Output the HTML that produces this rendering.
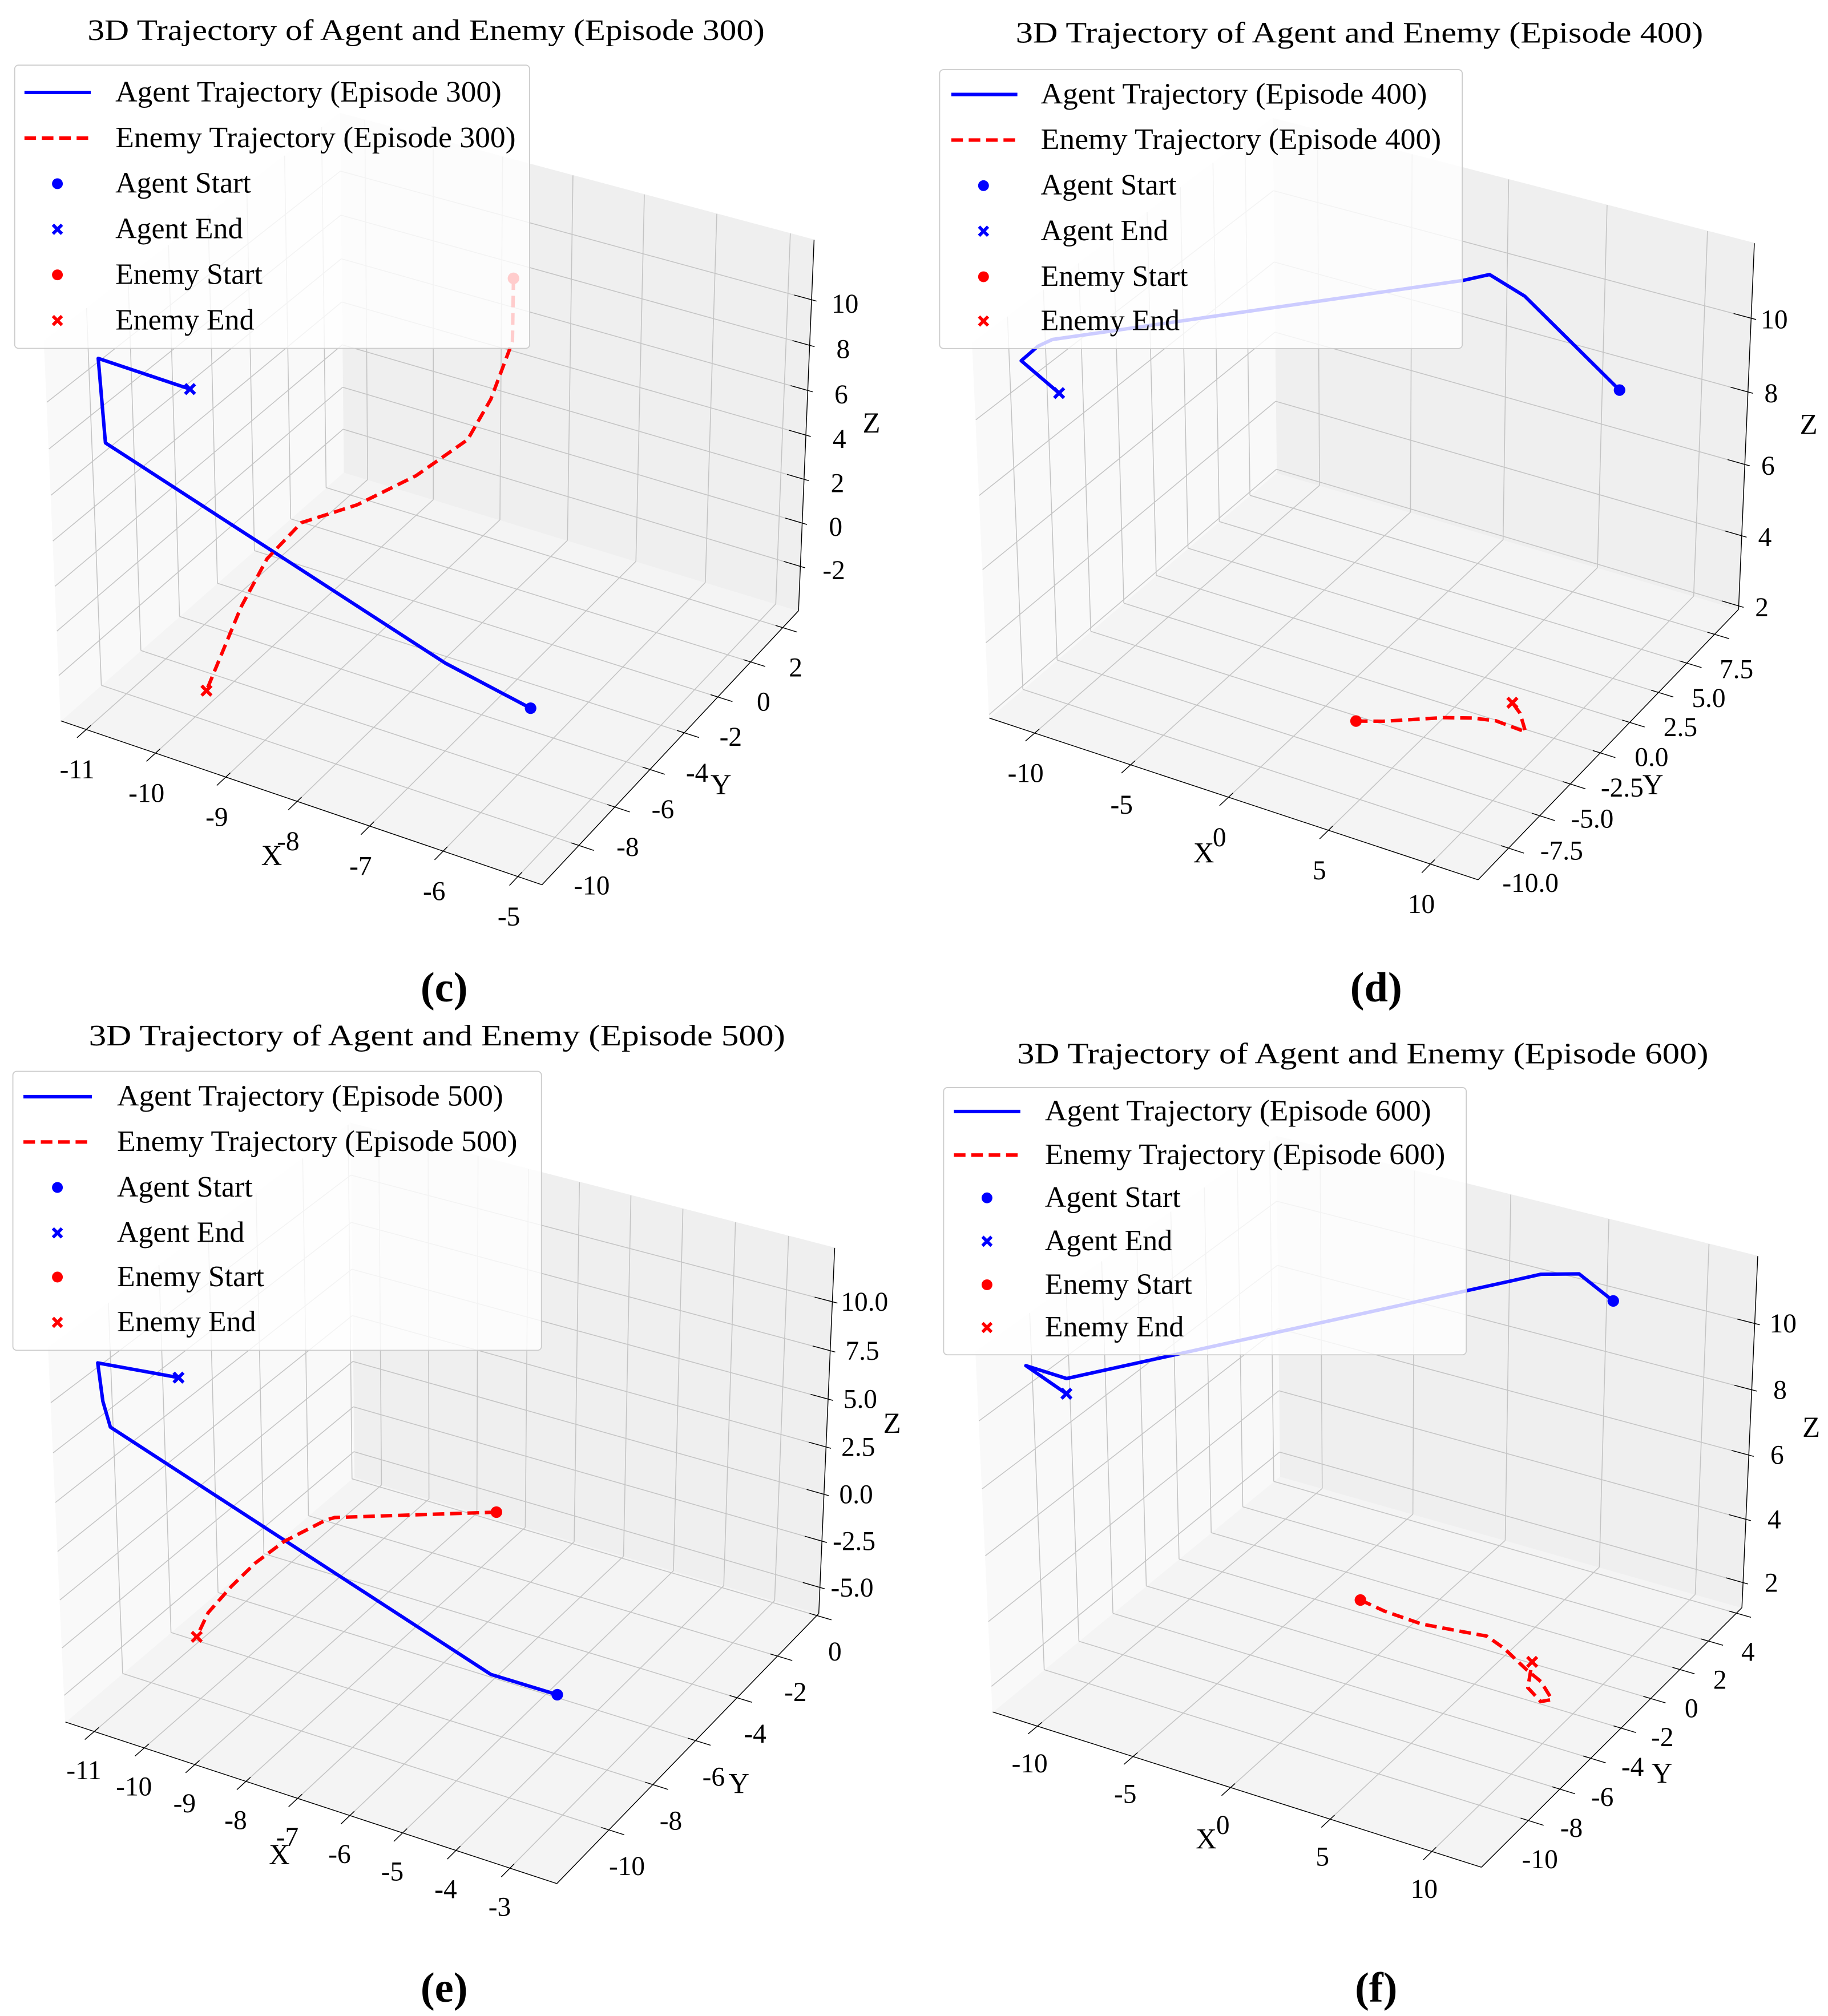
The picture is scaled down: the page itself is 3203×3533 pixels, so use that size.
<!DOCTYPE html>
<html><head><meta charset="utf-8">
<style>
html,body{margin:0;padding:0;background:#fff;}
svg{display:block;}
text{font-family:"Liberation Serif","DejaVu Serif",serif;fill:#000;}
</style></head>
<body>
<svg id="fig" xmlns="http://www.w3.org/2000/svg" width="3203" height="3533" viewBox="0 0 1420 1566" preserveAspectRatio="none"></svg>
<script>
// ---------------- DATA ----------------
// Panel (c) Episode 300
const agentX_c=[-5.42,-6.75,-10.9,-10.85,-9.63];
const agentY_c=[-9.69,-8.97,-10.89,-11.24,-11.07];
const agentZ_c=[0.93,0.93,7.9,11.8,11.5];
const enemyX_c=[-8.00,-7.98,-7.97,-8.09,-8.52,-9.02,-9.49,-9.78,-9.93,-9.97];
const enemyY_c=[-0.36,-0.47,-1.71,-2.52,-3.68,-4.97,-6.20,-6.96,-7.80,-9.51];
const enemyZ_c=[10.3,7.60,5.93,4.60,3.43,2.60,2.26,0.93,-0.74,-3.24];
const xTicks_c=[-11,-10,-9,-8,-7,-6,-5];
const yTicks_c=[-10,-8,-6,-4,-2,0,2];
const zTicks_c=[-2,0,2,4,6,8,10];
const xTickLabels_c=["-11","-10","-9","-8","-7","-6","-5"];
const yTickLabels_c=["-10","-8","-6","-4","-2","0","2"];
const zTickLabels_c=["-2","0","2","4","6","8","10"];
const xLim_c=[-11.37,-4.68], yLim_c=[-12,3], zLim_c=[-4.07,12.6];

// Panel (d) Episode 400
const agentX_d=[7.4,3.43,2.27,1.19,-10.2,-10.6,-10.9,-9.0];
const agentY_d=[7.0,5.48,4.44,4.04,-9.9,-10.37,-11.14,-11.16];
const agentZ_d=[8.1,10.49,11.19,10.99,11.7,11.6,11.4,10.85];
const enemyX_d=[2.49,3.51,4.59,5.66,6.79,7.80,9.34,8.42,7.73];
const enemyY_d=[-6.43,-5.92,-5.22,-4.51,-3.96,-3.67,-3.78,-2.72,-2.21];
const enemyZ_d=[2.4,2.4,2.4,2.4,2.4,2.4,2.4,2.4,2.4];
const xTicks_d=[-10,-5,0,5,10];
const yTicks_d=[-10,-7.5,-5,-2.5,0,2.5,5,7.5];
const zTicks_d=[2,4,6,8,10];
const xTickLabels_d=["-10","-5","0","5","10"];
const yTickLabels_d=["-10.0","-7.5","-5.0","-2.5","0.0","2.5","5.0","7.5"];
const zTickLabels_d=["2","4","6","8","10"];
const xLim_d=[-12.4,12.3], yLim_d=[-12.4,9.7], zLim_d=[1.9,12.0];

// Panel (e) Episode 500
const agentX_e=[-3.76,-5.01,-10.72,-10.8,-10.75,-9.4];
const agentY_e=[-8.47,-8.48,-11.75,-11.84,-12.07,-11.68];
const agentZ_e=[-2.59,-2.59,8.89,10.2,12.35,12.25];
const enemyX_e=[-7.65,-10.01,-10.1,-10.4,-10.5,-10.48,-10.4,-10.17];
const enemyY_e=[-2.11,-4.18,-4.39,-5.57,-6.60,-7.66,-8.80,-9.75];
const enemyZ_e=[-3.0,-3.0,-3.0,-3.15,-3.3,-3.4,-3.5,-3.55];
const xTicks_e=[-11,-10,-9,-8,-7,-6,-5,-4,-3];
const yTicks_e=[-10,-8,-6,-4,-2,0];
const zTicks_e=[-5,-2.5,0,2.5,5,7.5,10];
const xTickLabels_e=["-11","-10","-9","-8","-7","-6","-5","-4","-3"];
const yTickLabels_e=["-10","-8","-6","-4","-2","0"];
const zTickLabels_e=["-5.0","-2.5","0.0","2.5","5.0","7.5","10.0"];
const xLim_e=[-11.58,-2.14], yLim_e=[-12.3,0.1], zLim_e=[-6.42,12.72];

// Panel (f) Episode 600
const agentX_f=[6.16,4.72,3.26,2.44,-10.0,-10.55,-9.6];
const agentY_f=[3.26,2.84,2.22,1.55,-10.60,-12.16,-11.05];
const agentZ_f=[10.15,10.9,10.9,10.85,10.7,11.6,10.5];
const enemyX_f=[-2.37,-0.9,1.10,3.09,4.18,5.34,7.10,8.16,9.30,8.95,7.9,7.02];
const enemyY_f=[-2.23,-2.45,-2.55,-2.31,-2.17,-2.54,-3.32,-3.73,-4.49,-4.77,-4.25,-2.83];
const enemyZ_f=[1.74,1.74,1.74,1.74,1.74,1.74,1.74,1.74,1.74,1.74,1.74,1.74];
const xTicks_f=[-10,-5,0,5,10];
const yTicks_f=[-10,-8,-6,-4,-2,0,2,4];
const zTicks_f=[2,4,6,8,10];
const xTickLabels_f=["-10","-5","0","5","10"];
const yTickLabels_f=["-10","-8","-6","-4","-2","0","2","4"];
const zTickLabels_f=["2","4","6","8","10"];
const xLim_f=[-12.37,12.4], yLim_f=[-12.9,4.4], zLim_f=[1.2,12.0];

const episodes=["300","400","500","600"];

// ---------------- LAYOUT ----------------
const panels=[
 {id:"c",ep:episodes[0],ax:agentX_c,ay:agentY_c,az:agentZ_c,ex:enemyX_c,ey:enemyY_c,ez:enemyZ_c,
  xt:xTicks_c,yt:yTicks_c,zt:zTicks_c,xl:xTickLabels_c,yl:yTickLabels_c,zl:zTickLabels_c,xlim:xLim_c,ylim:yLim_c,zlim:zLim_c,
  corners:[[48,557],[425,688],[621,476],[627,187]],xOff:[-7,31],yOff:[10,31],zOff:[26,3],
  title:[331,31,526],legBox:[11.4,50.6,400,220],legRows:[71.8,107.3,142.7,178.1,213.5,249],legLine:[19,70.5],legMark:44.6,legText:89.6,
  xLab:[211,672],yLab:[560,617],zLab:[677,336],letter:[345,778]},
 {id:"d",ep:episodes[1],ax:agentX_d,ay:agentY_d,az:agentZ_d,ex:enemyX_d,ey:enemyY_d,ez:enemyZ_d,
  xt:xTicks_d,yt:yTicks_d,zt:zTicks_d,xl:xTickLabels_d,yl:yTickLabels_d,zl:zTickLabels_d,xlim:xLim_d,ylim:yLim_d,zlim:zLim_d,
  corners:[[768.5,559],[1148.2,685.5],[1350.5,468],[1362.8,191]],xOff:[-7,31],yOff:[17,27],zOff:[18,1],
  title:[1056,33,534],legBox:[729.9,54.1,406,216.6],legRows:[73.4,108.8,144.2,179.6,215,249.4],legLine:[739,790.3],legMark:764,legText:808.5,
  xLab:[935,670],yLab:[1284,617],zLab:[1405,337],letter:[1069,778]},
 {id:"e",ep:episodes[2],ax:agentX_e,ay:agentY_e,az:agentZ_e,ex:enemyX_e,ey:enemyY_e,ez:enemyZ_e,
  xt:xTicks_e,yt:yTicks_e,zt:zTicks_e,xl:xTickLabels_e,yl:yTickLabels_e,zl:zTickLabels_e,xlim:xLim_e,ylim:yLim_e,zlim:zLim_e,
  corners:[[49.1,1337.1],[434.2,1463.1],[634.3,1254],[650.2,969.3]],xOff:[-8,30],yOff:[14,28],zOff:[25,0],
  title:[339.5,812,541],legBox:[10,832.2,410.6,216.7],legRows:[851.9,887.1,922.4,957.7,992,1027.2],legLine:[18.2,71.4],legMark:44.6,legText:90.9,
  xLab:[217,1448],yLab:[574,1393],zLab:[693,1113],letter:[345,1555]},
 {id:"f",ep:episodes[3],ax:agentX_f,ay:agentY_f,az:agentZ_f,ex:enemyX_f,ey:enemyY_f,ez:enemyZ_f,
  xt:xTicks_f,yt:yTicks_f,zt:zTicks_f,xl:xTickLabels_f,yl:yTickLabels_f,zl:zTickLabels_f,xlim:xLim_f,ylim:yLim_f,zlim:zLim_f,
  corners:[[770.8,1329.6],[1151.4,1450.5],[1352.8,1248.9],[1365.5,975.8]],xOff:[-6,29],yOff:[9,30],zOff:[22,0],
  title:[1058.6,826,537],legBox:[733,844.8,406,207.6],legRows:[863.4,897.2,930.5,964.2,998,1031.2],legLine:[741,792.6],legMark:766.7,legText:811.7,
  xLab:[937,1436],yLab:[1291,1385],zLab:[1407,1116],letter:[1069,1555]}
];

const NS="http://www.w3.org/2000/svg";
const svg=document.getElementById("fig");
function el(tag,attrs,parent){const e=document.createElementNS(NS,tag);for(const k in attrs)e.setAttribute(k,attrs[k]);(parent||svg).appendChild(e);return e;}

// matplotlib-like perspective (elev 30, azim -60)
const nrm=Math.hypot(4,4,3), fac=1.8294640721620434/nrm;
const BA=[4*fac,4*fac,3*fac];
const R=[BA[0]/2,BA[1]/2,BA[2]/2];
const el_=30*Math.PI/180, az_=-60*Math.PI/180;
const nV=[Math.cos(el_)*Math.cos(az_),Math.cos(el_)*Math.sin(az_),Math.sin(el_)];
const eye=[R[0]+10*nV[0],R[1]+10*nV[1],R[2]+10*nV[2]];
let uV=[-nV[1],nV[0],0];const ul=Math.hypot(uV[0],uV[1]);uV=[uV[0]/ul,uV[1]/ul,0];
const vV=[nV[1]*uV[2]-nV[2]*uV[1],nV[2]*uV[0]-nV[0]*uV[2],nV[0]*uV[1]-nV[1]*uV[0]];
function raw(p){const d=[p[0]-eye[0],p[1]-eye[1],p[2]-eye[2]];const dep=-(nV[0]*d[0]+nV[1]*d[1]+nV[2]*d[2]);
 return [(uV[0]*d[0]+uV[1]*d[1]+uV[2]*d[2])/dep,(vV[0]*d[0]+vV[1]*d[1]+vV[2]*d[2])/dep];}

function makeProj(P){
 const s=[raw([0,0,0]),raw([BA[0],0,0]),raw([BA[0],BA[1],0]),raw([BA[0],BA[1],BA[2]])];
 const C=P.corners;
 const kx=(C[2][0]-C[0][0])/(s[2][0]-s[0][0]);
 const ky=(C[1][1]-C[3][1])/(s[3][1]-s[1][1]);
 let cx=0,cy=0;for(let i=0;i<4;i++){cx+=C[i][0]-kx*s[i][0];cy+=C[i][1]+ky*s[i][1];}cx/=4;cy/=4;
 return function(x,y,z){
  const p=[(x-P.xlim[0])/(P.xlim[1]-P.xlim[0])*BA[0],(y-P.ylim[0])/(P.ylim[1]-P.ylim[0])*BA[1],(z-P.zlim[0])/(P.zlim[1]-P.zlim[0])*BA[2]];
  const r=raw(p);return [cx+kx*r[0],cy-ky*r[1]];};
}
function pts(arr){return arr.map(p=>p[0].toFixed(2)+","+p[1].toFixed(2)).join(" ");}

panels.forEach(P=>{
 const pr=makeProj(P);
 const [x0,x1]=P.xlim,[y0,y1]=P.ylim,[z0,z1]=P.zlim;
 const g=el("g",{});
 
 

 // panes
 const floor=el("polygon",{points:pts([pr(x0,y0,z0),pr(x1,y0,z0),pr(x1,y1,z0),pr(x0,y1,z0)]),fill:"#f4f4f4",stroke:"#f4f4f4","stroke-width":0.5},g);
 
 
 const back=el("polygon",{points:pts([pr(x0,y1,z0),pr(x1,y1,z0),pr(x1,y1,z1),pr(x0,y1,z1)]),fill:"#efefef",stroke:"#efefef","stroke-width":0.5},g);
 
 
 const left=el("polygon",{points:pts([pr(x0,y0,z0),pr(x0,y1,z0),pr(x0,y1,z1),pr(x0,y0,z1)]),fill:"#f9f9f9",stroke:"#f9f9f9","stroke-width":0.5},g);
 
 

 // grid
 const gg=el("g",{stroke:"#c4c4c4","stroke-width":0.7,fill:"none"},g);
 
 
 const seg=(a,b)=>el("line",{x1:a[0],y1:a[1],x2:b[0],y2:b[1]},gg);
 P.xt.forEach(v=>{seg(pr(v,y0,z0),pr(v,y1,z0));seg(pr(v,y1,z0),pr(v,y1,z1));});
 P.yt.forEach(v=>{seg(pr(x0,v,z0),pr(x1,v,z0));seg(pr(x0,v,z0),pr(x0,v,z1));});
 P.zt.forEach(v=>{seg(pr(x0,y1,v),pr(x1,y1,v));seg(pr(x0,y0,v),pr(x0,y1,v));});

 // axes lines
 const ag=el("g",{stroke:"#000","stroke-width":0.65,fill:"none"},g);
 
 
 const aseg=(a,b)=>el("line",{x1:a[0],y1:a[1],x2:b[0],y2:b[1]},ag);
 aseg(pr(x0,y0,z0),pr(x1,y0,z0));
 aseg(pr(x1,y0,z0),pr(x1,y1,z0));
 aseg(pr(x1,y1,z0),pr(x1,y1,z1));
 const Ry=y1-y0,Rx=x1-x0;
 P.xt.forEach(v=>aseg(pr(v,y0-0.03*Ry,z0),pr(v,y0+0.015*Ry,z0)));
 P.yt.forEach(v=>aseg(pr(x1+0.03*Rx,v,z0),pr(x1-0.015*Rx,v,z0)));
 P.zt.forEach(v=>aseg(pr(x1-0.035*Rx,y1,v),pr(x1+0.01*Rx,y1,v)));

 // tick labels
 const tg=el("g",{"font-size":21,"text-anchor":"middle"},g);
 
 
 P.xt.forEach((v,i)=>{const q=pr(v,y0,z0);const t=el("text",{x:q[0]+P.xOff[0],y:q[1]+P.xOff[1]+7},tg);t.textContent=P.xl[i];
  
  });
 P.yt.forEach((v,i)=>{const q=pr(x1,v,z0);const t=el("text",{x:q[0]+P.yOff[0],y:q[1]+P.yOff[1]+7},tg);t.textContent=P.yl[i];
  
  });
 P.zt.forEach((v,i)=>{const q=pr(x1,y1,v);const t=el("text",{x:q[0]+P.zOff[0],y:q[1]+P.zOff[1]+7},tg);t.textContent=P.zl[i];
  
  });

 // axis titles
 [["X",P.xLab,"x-axis-title"],["Y",P.yLab,"y-axis-title"],["Z",P.zLab,"z-axis-title"]].forEach(a=>{
  const t=el("text",{x:a[1][0],y:a[1][1],"font-size":22.5,"text-anchor":"middle"},g);t.textContent=a[0];
  
  });

 // trajectories
 const ap=P.ax.map((v,i)=>pr(v,P.ay[i],P.az[i]));
 const ep=P.ex.map((v,i)=>pr(v,P.ey[i],P.ez[i]));
 const al=el("polyline",{points:pts(ap),fill:"none",stroke:"#0000ff","stroke-width":2.7,"stroke-linejoin":"round"},g);
 
 
 const elx=el("polyline",{points:pts(ep),fill:"none",stroke:"#ff0000","stroke-width":2.7,"stroke-dasharray":"9,4.5"},g);
 
 
 const dot=(q,c,name)=>{const d=el("circle",{cx:q[0],cy:q[1],r:4.5,fill:c},g);
  
  };
 const cross=(q,c,name)=>{const s=3.8;const d=el("path",{d:`M${q[0]-s},${q[1]-s}L${q[0]+s},${q[1]+s}M${q[0]-s},${q[1]+s}L${q[0]+s},${q[1]-s}`,stroke:c,"stroke-width":2.6,fill:"none"},g);
  
  };
 dot(ap[0],"#0000ff","agent-start-marker");
 cross(ap[ap.length-1],"#0000ff","agent-end-marker");
 dot(ep[0],"#ff0000","enemy-start-marker");
 cross(ep[ep.length-1],"#ff0000","enemy-end-marker");

 // title
 const tt=el("text",{x:P.title[0],y:P.title[1],"font-size":23,"text-anchor":"middle",textLength:P.title[2],lengthAdjust:"spacingAndGlyphs"},g);
 tt.textContent="3D Trajectory of Agent and Enemy (Episode "+P.ep+")";
 
 

 // legend
 const lg=el("g",{},g);
 
 
 const b=P.legBox;
 const box=el("rect",{x:b[0],y:b[1],width:b[2],height:b[3],rx:3,fill:"#fff","fill-opacity":0.8,stroke:"#cccccc","stroke-width":0.8},lg);
 
 
 const labels=["Agent Trajectory (Episode "+P.ep+")","Enemy Trajectory (Episode "+P.ep+")","Agent Start","Agent End","Enemy Start","Enemy End"];
 const names=["legend-agent-trajectory","legend-enemy-trajectory","legend-agent-start","legend-agent-end","legend-enemy-start","legend-enemy-end"];
 const widths=[300,311,null,null,null,null];
 labels.forEach((s,i)=>{
  const y=P.legRows[i];
  const attrs={x:P.legText,y:y+7,"font-size":23};
  if(widths[i]){attrs.textLength=widths[i];attrs.lengthAdjust="spacingAndGlyphs";}
  const t=el("text",attrs,lg);t.textContent=s;
  
  
  let m;
  if(i===0)m=el("line",{x1:P.legLine[0],y1:y,x2:P.legLine[1],y2:y,stroke:"#0000ff","stroke-width":2.7},lg);
  else if(i===1)m=el("line",{x1:P.legLine[0],y1:y,x2:P.legLine[1],y2:y,stroke:"#ff0000","stroke-width":2.7,"stroke-dasharray":"9,4.5"},lg);
  else if(i%2===0)m=el("circle",{cx:P.legMark,cy:y,r:4.2,fill:i===2?"#0000ff":"#ff0000"},lg);
  else {const q=P.legMark,s2=3.5;m=el("path",{d:`M${q-s2},${y-s2}L${q+s2},${y+s2}M${q-s2},${y+s2}L${q+s2},${y-s2}`,stroke:i===3?"#0000ff":"#ff0000","stroke-width":2.5},lg);}
  
  
 });

 // panel letter
 const L=el("text",{x:P.letter[0],y:P.letter[1],"font-size":33,"font-weight":"bold","text-anchor":"middle"},g);
 L.textContent="("+P.id+")";
 
 
});
</script>
</body></html>
